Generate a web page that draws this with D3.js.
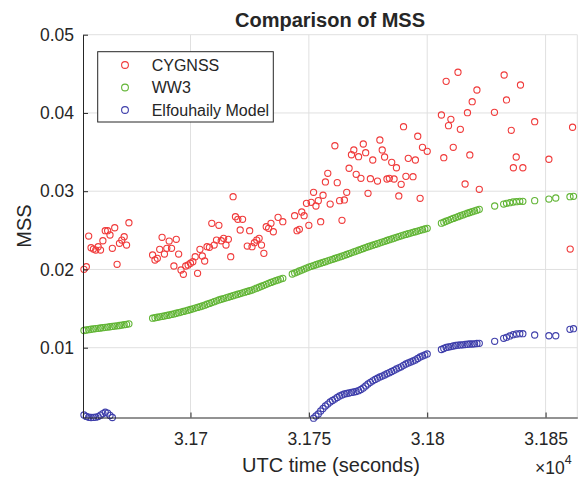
<!DOCTYPE html>
<html>
<head>
<meta charset="utf-8">
<script src="https://cdn.jsdelivr.net/npm/d3@7"></script>
<style>
  body { margin: 0; background: #fff; }
  text { font-family: "Liberation Sans", Arial, Helvetica, sans-serif; fill: #262626; }
</style>
</head>
<body>
<svg id="chart" width="583" height="479"></svg>
<script>
// CYGNSS retrievals (UTC seconds, MSS)
var cygTime = [
  31655,31656,31657,31658,31659,31660,31661,31662,31663,31664,31665,31666,31667,31668,31669,31670,31671,31672,31673,31674,
  31684,31685,31686,31687,31688,31689,31690,31691,31692,31693,31694,31695,31696,31697,31698,31699,31700,31701,31702,31703,
  31704,31705,31706,31707,31708,31709,31710,31711,31712,31713,31714,31715,31716,31717,31718,31719,31720,31721,31722,
  31724,31725,31726,31727,31728,31729,31730,31731,31732,31733,31734,31735,31737,31739,
  31744,31745,31746,31747,31748,31749,31750,31751,31752,31753,31754,31755,31756,31757,31758,31759,
  31761,31762,31763,31764,31765,31766,31767,31768,31769,31770,31771,31772,31773,31774,31775,31776,31777,
  31779,31780,31781,31782,31783,31784,31785,31786,31787,31788,31789,31790,31791,31792,
  31794,31795,31796,31797,31798,31800,
  31806,31807,31808,31809,31810,31811,31813,31814,31816,31817,31818,31819,31821,31822,
  31828.4,31832.5,31833.5,31835.5,31836.4,31837.6,31839.4,31840.4,31845.4,31851.4,31860.4,31861.4
];
var cygMss = [
  .02002,.02035,.02427,.02278,.02261,.02248,.02291,.02248,.02367,.02495,.02495,.0244,.0227,.02533,.02066,.02334,.02376,.02418,.02312,.02597,
  .02185,.02121,.02142,.02257,.02411,.02197,.0227,.02363,.0227,.02044,.02385,.02197,.01993,.01938,.02044,.02057,.02079,.02099,.02163,.01951,
  .02257,.02172,.02108,.02291,.02283,.0259,.02312,.02376,.02564,.02367,.02398,.02312,.02385,.02163,.0293,.02674,.02641,.02504,.02641,
  .02299,.02495,.02291,.02342,.02376,.02398,.02312,.02206,.02546,.02526,.0259,.02482,.02666,.0261,
  .02687,.02495,.02513,.02734,.02687,.02845,.02564,.02858,.02986,.02811,.02879,.0261,.02948,.03118,.03229,.02836,
  .03581,.03109,.02879,.02628,.02888,.02986,.03293,.03466,.03527,.03216,.03441,.03165,.03603,.03492,.02973,.0316,.03399,
  .0313,.03654,.03527,.03437,.03156,.03165,.03369,.03156,.033,.02939,.03088,.03824,.0319,.0342,
  .03185,.03399,.03702,.02909,.03561,.0351,
  .03974,.03428,.04404,.03838,.03919,.03561,.0452,.03791,.03092,.04003,.03463,.04144,.04293,.03024,
  .04008,.04485,.04166,.03778,.033,.03437,.04357,.033,.03888,.03408,.02261,.03817
];

// WW3 model
var ww3Time = [
  31655,31656,31657,31658,31659,31660,31661,31662,31663,31664,31665,31666,31667,31668,31669,31670,31671,31672,31673,31674,
  31684,31685,31686,31687,31688,31689,31690,31691,31692,31693,31694,31695,31696,31697,31698,31699,31700,31701,31702,31703,
  31704,31705,31706,31707,31708,31709,31710,31711,31712,31713,31714,31715,31716,31717,31718,31719,31720,31721,31722,31723,
  31724,31725,31726,31727,31728,31729,31730,31731,31732,31733,31734,31735,31736,31737,31738,31739,
  31743,31744,31745,31746,31747,31748,31749,31750,31751,31752,31753,31754,31755,31756,31757,31758,31759,31760,31761,31762,
  31763,31764,31765,31766,31767,31768,31769,31770,31771,31772,31773,31774,31775,31776,31777,31778,31779,31780,31781,31782,
  31783,31784,31785,31786,31787,31788,31789,31790,31791,31792,31793,31794,31795,31796,31797,31798,31799,31800,
  31806,31807,31808,31809,31810,31811,31812,31813,31814,31815,31816,31817,31818,31819,31820,31821,31822,
  31828.5,31832.3,31833.5,31834.9,31836.3,31837.7,31839.1,31840.4,31845.4,31851.4,31854.3,31860.3,31861.8
];
var ww3Mss = [
  .0122,.01226,.01231,.01236,.0124,.01244,.01248,.01252,.01256,.0126,.01264,.01268,.01272,.01276,.0128,.01284,.01289,.01294,.01299,.01305,
  .01377,.01383,.01389,.01394,.014,.01406,.01412,.01418,.01425,.01432,.0144,.01447,.01455,.01463,.01471,.01479,.01488,.01497,.01506,.01515,
  .01524,.01533,.01544,.01555,.01566,.01577,.01588,.01599,.0161,.01619,.01628,.01637,.01646,.01655,.01665,.01674,.01683,.01692,.01701,.0171,
  .01719,.01728,.01737,.01749,.01761,.01773,.01785,.01797,.0181,.01823,.01834,.01845,.01856,.01866,.01877,.01887,
  .01942,.01955,.01967,.0198,.01992,.02005,.02018,.0203,.0204,.0205,.0206,.0207,.0208,.0209,.021,.0211,.0212,.0213,.0214,.0215,
  .0216,.0217,.0218,.02191,.02202,.02213,.02224,.02235,.02246,.02257,.02268,.02279,.0229,.023,.0231,.0232,.0233,.0234,.0235,.0236,
  .0237,.0238,.0239,.024,.0241,.0242,.0243,.02439,.02448,.02457,.02465,.02474,.02482,.02491,.025,.02508,.02517,.02526,
  .02592,.02604,.02616,.02628,.0264,.02652,.02663,.02674,.02686,.02697,.02708,.02718,.02728,.02738,.02748,.02758,.02768,
  .02811,.02836,.02845,.02853,.02862,.02866,.02871,.02871,.02879,.029,.02913,.0293,.02935
];

// Elfouhaily model (only the part inside the axes)
var elfTime = [
  31655,31656,31657,31658,31659,31660,31661,31662,31663,31664,31665,31666,31667,
  31752,31753,31754,31755,31756,31757,31758,31759,31760,31761,31762,31763,31764,31765,31766,31767,31768,31769,31770,31771,
  31772,31773,31774,31775,31776,31777,31778,31779,31780,31781,31782,31783,31784,31785,31786,31787,31788,31789,31790,31791,
  31792,31793,31794,31795,31796,31797,31798,31799,31800,
  31806,31807,31808,31809,31810,31811,31812,31813,31814,31815,31816,31817,31818,31819,31820,31821,31822,
  31828.5,31832.3,31833.5,31834.9,31836.3,31837.7,31839.1,31840.4,31845.4,31851.4,31854.3,31860.3,31861.8
];
var elfMss = [
  .0014,.00122,.00111,.00108,.00109,.00112,.0012,.00138,.00158,.00175,.00164,.00135,.00108,
  .00099,.00127,.00153,.00191,.00223,.00255,.0028,.00306,.00325,.00344,.00364,.00383,.00396,.00408,.00415,.00421,.00428,.00434,.0044,.00451,
  .00466,.00485,.00511,.00536,.00558,.00577,.00594,.0061,.00626,.00638,.00651,.00667,.00681,.00696,.00711,.00728,.00743,.00756,.00775,.00792,
  .00805,.00817,.0083,.00843,.00862,.00881,.00894,.00907,.0092,
  .00977,.0099,.01003,.01009,.01015,.01022,.01028,.01032,.01035,.01037,.01041,.01044,.01047,.01047,.0105,.01054,.01056,
  .01082,.0112,.01133,.0115,.01166,.01175,.01179,.01179,.01162,.01153,.01153,.01235,.01243
];

var seriesNames = ["CYGNSS", "WW3", "Elfouhaily Model"];
var seriesColors = ["#f03a3a", "#62b536", "#3f3fab"];
var xTicks = [31700, 31750, 31800, 31850];
var yTicks = [0.01, 0.02, 0.03, 0.04, 0.05];

var svg = d3.select("#chart");
var axLeft = 83, axRight = 577.3, axTop = 34.7, axBottom = 417.5;
var markerR = 3.1;

var x = d3.scaleLinear().domain([31654.6, 31863.4]).range([axLeft, axRight]);
var y = d3.scaleLinear().domain([0.00108, 0.05]).range([axBottom, axTop]);

svg.append("rect").attr("width", 583).attr("height", 479).attr("fill", "#fff");

// grid
var grid = svg.append("g").attr("stroke", "#e0e0e0").attr("stroke-width", 1);
grid.selectAll("line.gx").data(xTicks).enter().append("line")
    .attr("x1", function(d) { return x(d); }).attr("x2", function(d) { return x(d); })
    .attr("y1", axTop).attr("y2", axBottom);
grid.selectAll("line.gy").data(yTicks).enter().append("line")
    .attr("x1", axLeft).attr("x2", axRight)
    .attr("y1", function(d) { return y(d); }).attr("y2", function(d) { return y(d); });
grid.append("line").attr("x1", axRight).attr("x2", axRight).attr("y1", axTop).attr("y2", axBottom);

// data
var series = [
    d3.zip(cygTime, cygMss),
    d3.zip(ww3Time, ww3Mss),
    d3.zip(elfTime, elfMss)
];
series.forEach(function(pts, i) {
    svg.append("g")
        .attr("fill", "none")
        .attr("stroke", seriesColors[i])
        .attr("stroke-width", 1.1)
        .selectAll("circle")
        .data(pts)
        .enter().append("circle")
        .attr("cx", function(d) { return x(d[0]); })
        .attr("cy", function(d) { return y(d[1]); })
        .attr("r", markerR);
});

// axes
var xAxis = d3.axisBottom(x).tickValues(xTicks).tickSizeInner(-5).tickSizeOuter(0).tickPadding(15)
    .tickFormat(function(d) { return d3.format("")(+(d / 1e4).toFixed(4)); });
var yAxis = d3.axisLeft(y).tickValues(yTicks).tickSizeInner(-5).tickSizeOuter(0).tickPadding(9)
    .tickFormat(d3.format(".2f"));

var gx = svg.append("g").attr("transform", "translate(0," + axBottom + ")").call(xAxis);
var gy = svg.append("g").attr("transform", "translate(" + axLeft + ",0)").call(yAxis);
[gx, gy].forEach(function(g) {
    g.select(".domain").attr("stroke", "#262626");
    g.selectAll(".tick line").attr("stroke", "#262626");
    g.selectAll(".tick text").attr("fill", "#262626")
        .style("font-family", "'Liberation Sans', Arial, sans-serif").style("font-size", "17.5px");
});

// labels
svg.append("text").attr("x", 330).attr("y", 27).attr("text-anchor", "middle")
    .style("font-size", "20px").style("font-weight", "bold").text("Comparison of MSS");
svg.append("text").attr("x", 331).attr("y", 472).attr("text-anchor", "middle")
    .style("font-size", "20px").text("UTC time (seconds)");
svg.append("text").attr("transform", "translate(31,226) rotate(-90)").attr("text-anchor", "middle")
    .style("font-size", "20px").text("MSS");
var exp = svg.append("text").attr("x", 535).attr("y", 474).style("font-size", "17.5px");
exp.append("tspan").text("\u00d710");
exp.append("tspan").attr("dy", -10).style("font-size", "12.5px").text("4");

// legend
var legend = svg.append("g");
legend.append("rect").attr("x", 97.7).attr("y", 51.7).attr("width", 175.6).attr("height", 70.3)
    .attr("fill", "#fff").attr("stroke", "#262626").attr("stroke-width", 1);
var rowY = [65, 87.5, 110];
seriesNames.forEach(function(name, i) {
    legend.append("circle").attr("cx", 125).attr("cy", rowY[i]).attr("r", markerR + 0.3)
        .attr("fill", "none").attr("stroke", seriesColors[i]).attr("stroke-width", 1.1);
    legend.append("text").attr("x", 151.7).attr("y", rowY[i]).attr("dy", "0.36em")
        .style("font-size", "16px").text(name);
});
</script>
</body>
</html>
